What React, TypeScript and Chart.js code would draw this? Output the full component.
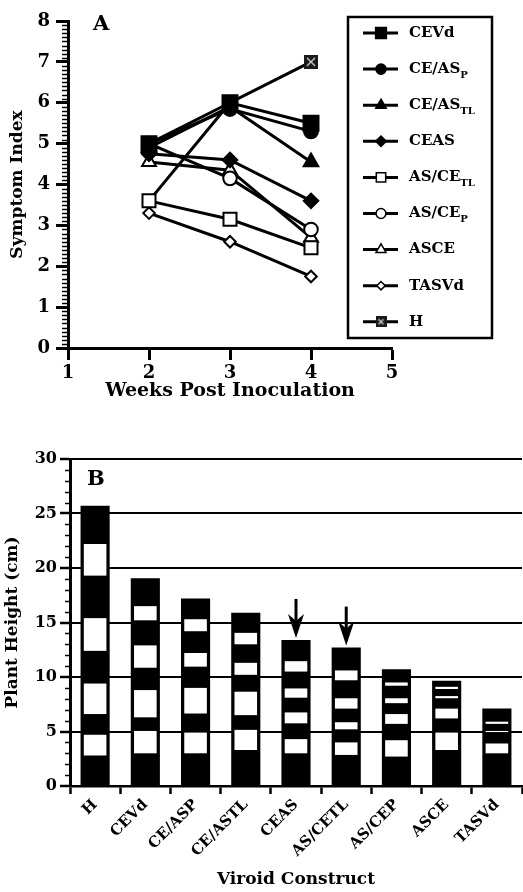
import React, { useEffect, useRef } from 'react';
import { Chart, registerables } from 'chart.js';
import { drawPoint } from 'chart.js/helpers';

Chart.register(...registerables);

const FONT = "'DejaVu Serif', serif";

// ---------- Panel A data ----------
const weeks = [2, 3, 4];
const seriesNames = ['CEVd', 'CE/AS', 'CE/AS', 'CEAS', 'AS/CE', 'AS/CE', 'ASCE', 'TASVd', 'H'];
const seriesSubs = ['', 'P', 'TL', '', 'TL', 'P', '', '', ''];
const cevd = [5.0, 6.0, 5.5];
const ceAsP = [5.0, 5.85, 5.3];
const ceAsTL = [4.9, 5.9, 4.55];
const ceas = [4.75, 4.6, 3.6];
const asCeTL = [3.6, 3.15, 2.45];
const asCeP = [5.0, 4.15, 2.9];
const asce = [4.55, 4.35, 2.7];
const tasvd = [3.3, 2.6, 1.75];
const hSeries = [3.6, 6.0, 7.0];
const seriesValues = [cevd, ceAsP, ceAsTL, ceas, asCeTL, asCeP, asce, tasvd, hSeries];

// ---------- Panel B data ----------
const constructs = ['H', 'CEVd', 'CE/ASP', 'CE/ASTL', 'CEAS', 'AS/CETL', 'AS/CEP', 'ASCE', 'TASVd'];
const plantHeight = [25.7, 19.05, 17.2, 15.9, 13.4, 12.7, 10.7, 9.65, 7.1];
const band1 = [[2.8, 4.7], [3.0, 5.05], [3.0, 4.9], [3.3, 5.15], [3.0, 4.3], [2.85, 4.0], [2.7, 4.2], [3.3, 4.9], [3.0, 3.9]];
const band2 = [[6.6, 9.4], [6.3, 8.8], [6.65, 9.0], [6.5, 8.65], [5.75, 6.75], [5.2, 5.85], [5.7, 6.6], [6.2, 7.1], [4.95, 5.05]];
const band3 = [[12.4, 15.4], [10.85, 12.9], [10.95, 12.2], [10.2, 11.3], [8.1, 8.95], [7.1, 8.05], [7.6, 8.05], [8.05, 8.25], [5.7, 5.9]];
const band4 = [[19.3, 22.2], [15.2, 16.5], [14.2, 15.3], [13.0, 14.05], [10.5, 11.45], [9.7, 10.6], [9.2, 9.5], [8.9, 9.1], null];
const arrowed = ['CEAS', 'AS/CETL'];

function makeHMarker(size: number) {
  const c = document.createElement('canvas');
  c.width = size;
  c.height = size;
  const g = c.getContext('2d')!;
  g.fillStyle = '#1a1a1a';
  g.fillRect(0, 0, size, size);
  g.strokeStyle = '#cfcfcf';
  g.lineWidth = 1.3;
  g.beginPath();
  g.moveTo(3, 3);
  g.lineTo(size - 3, size - 3);
  g.moveTo(size - 3, 3);
  g.lineTo(3, size - 3);
  g.stroke();
  return c;
}

const minorTicks = {
  id: 'minorTicks',
  afterDraw(chart: any, _args: any, opts: any) {
    const s = chart.scales.y;
    const ctx = chart.ctx;
    ctx.save();
    ctx.strokeStyle = '#000';
    ctx.lineWidth = opts.width;
    const n = Math.round((s.max - s.min) / opts.step);
    for (let i = 0; i <= n; i++) {
      const v = s.min + i * opts.step;
      if (Math.abs(v / opts.major - Math.round(v / opts.major)) < 1e-6) continue;
      const y = Math.round(s.getPixelForValue(v)) + 0.5;
      ctx.beginPath();
      ctx.moveTo(chart.chartArea.left - opts.len, y);
      ctx.lineTo(chart.chartArea.left, y);
      ctx.stroke();
    }
    ctx.restore();
  },
};

const panelLabel = {
  id: 'panelLabel',
  afterDraw(chart: any, _args: any, opts: any) {
    const ctx = chart.ctx;
    ctx.save();
    ctx.fillStyle = '#000';
    ctx.font = `bold 21px ${FONT}`;
    ctx.textBaseline = 'alphabetic';
    ctx.textAlign = 'left';
    ctx.fillText(opts.text, chart.chartArea.left + opts.dx, chart.chartArea.top + opts.dy);
    ctx.restore();
  },
};

const boxLegend = {
  id: 'boxLegend',
  afterDraw(chart: any) {
    const ctx = chart.ctx;
    const bx = chart.chartArea.right - 44;
    const by = 17;
    const bw = 144;
    const bh = 321;
    ctx.save();
    ctx.fillStyle = '#fff';
    ctx.fillRect(bx, by, bw, bh);
    ctx.strokeStyle = '#000';
    ctx.lineWidth = 2.5;
    ctx.strokeRect(bx, by, bw, bh);
    chart.data.datasets.forEach((ds: any, i: number) => {
      const y = by + 16 + i * 36.1;
      ctx.strokeStyle = '#000';
      ctx.lineWidth = 3;
      ctx.beginPath();
      ctx.moveTo(bx + 15, y);
      ctx.lineTo(bx + 50, y);
      ctx.stroke();
      ctx.fillStyle = ds.pointBackgroundColor;
      ctx.strokeStyle = '#000';
      ctx.lineWidth = 1.5;
      const style = ds.legendStyle || ds.pointStyle;
      drawPoint(ctx, { pointStyle: style, radius: ds.pointRadius * 0.72, borderWidth: 1.5, rotation: 0 } as any, bx + 33, y);
      ctx.fillStyle = '#000';
      ctx.font = `bold 15px ${FONT}`;
      ctx.textBaseline = 'middle';
      ctx.textAlign = 'left';
      ctx.fillText(seriesNames[i], bx + 61, y);
      if (seriesSubs[i]) {
        const w = ctx.measureText(seriesNames[i]).width;
        ctx.font = `bold 10px ${FONT}`;
        ctx.fillText(seriesSubs[i], bx + 61 + w, y + 6);
      }
    });
    ctx.restore();
  },
};

const arrowPlugin = {
  id: 'arrows',
  afterDatasetsDraw(chart: any) {
    const ctx = chart.ctx;
    const meta = chart.getDatasetMeta(0);
    ctx.save();
    ctx.fillStyle = '#000';
    ctx.strokeStyle = '#000';
    arrowed.forEach((name) => {
      const idx = chart.data.labels.indexOf(name);
      const el = meta.data[idx];
      if (!el) return;
      const x = el.x;
      const tip = el.y - 2;
      ctx.lineWidth = 3;
      ctx.beginPath();
      ctx.moveTo(x, tip - 39);
      ctx.lineTo(x, tip - 12);
      ctx.stroke();
      ctx.beginPath();
      ctx.moveTo(x, tip);
      ctx.lineTo(x - 8, tip - 24);
      ctx.lineTo(x, tip - 17);
      ctx.lineTo(x + 8, tip - 24);
      ctx.closePath();
      ctx.fill();
    });
    ctx.restore();
  },
};

export default function App() {
  const refA = useRef<HTMLCanvasElement>(null);
  const refB = useRef<HTMLCanvasElement>(null);

  useEffect(() => {
    const hImg = makeHMarker(14);
    const hLeg = makeHMarker(11);
    const styles: any[] = [
      { s: 'rect', r: 10.6, fill: '#000' },
      { s: 'circle', r: 7, fill: '#000' },
      { s: 'triangle', r: 8.4, fill: '#000' },
      { s: 'rectRot', r: 7.3, fill: '#000' },
      { s: 'rect', r: 9.2, fill: '#fff' },
      { s: 'circle', r: 6.8, fill: '#fff' },
      { s: 'triangle', r: 8, fill: '#fff' },
      { s: 'rectRot', r: 5.8, fill: '#fff' },
      { s: hImg, r: 7, fill: '#000', leg: hLeg },
    ];
    const tickFontA = { family: FONT, size: 18, weight: 'bold' as const };
    const chartA = new Chart(refA.current!, {
      type: 'line',
      data: {
        datasets: seriesValues.map((vals, i) => ({
          label: seriesNames[i] + seriesSubs[i],
          data: weeks.map((w, j) => ({ x: w, y: vals[j] })),
          borderColor: '#000',
          borderWidth: 3,
          pointStyle: styles[i].s,
          legendStyle: styles[i].leg,
          pointRadius: styles[i].r,
          pointBackgroundColor: styles[i].fill,
          pointBorderColor: '#000',
          pointBorderWidth: 2,
          tension: 0,
        })) as any,
      },
      options: {
        animation: false,
        responsive: false,
        maintainAspectRatio: false,
        layout: { padding: { left: 5, right: 131, top: 21, bottom: 0 } },
        plugins: {
          legend: { display: false },
          tooltip: { enabled: false },
          minorTicks: { step: 0.1, major: 1, len: 6, width: 1.5 },
          panelLabel: { text: 'A', dx: 25, dy: 9 },
        } as any,
        scales: {
          x: {
            type: 'linear',
            min: 1,
            max: 5,
            afterFit: (s: any) => { s.height = 410 - 348; },
            ticks: { stepSize: 1, color: '#000', font: tickFontA, padding: 3 },
            grid: { drawOnChartArea: false, tickLength: 12, tickWidth: 3, tickColor: '#000' },
            border: { color: '#000', width: 3 },
            title: { display: true, text: 'Weeks Post Inoculation', color: '#000', font: { family: FONT, size: 19, weight: 'bold' }, padding: { top: 0, bottom: 8 } },
          },
          y: {
            min: 0,
            max: 8,
            afterFit: (s: any) => { s.width = 63; },
            ticks: { stepSize: 1, color: '#000', font: tickFontA, padding: 6 },
            grid: { drawOnChartArea: false, tickLength: 12, tickWidth: 3, tickColor: '#000' },
            border: { color: '#000', width: 3 },
            title: { display: true, text: 'Symptom Index', color: '#000', font: { family: FONT, size: 17, weight: 'bold' }, padding: 2 },
          },
        },
      },
      plugins: [minorTicks, boxLegend, panelLabel],
    });

    const barBase = { grouped: false, categoryPercentage: 1, borderWidth: 0 };
    const stripe = (data: any[], i: number) => ({
      ...barBase,
      label: 'stripe' + i,
      data,
      backgroundColor: '#fff',
      barPercentage: 0.45,
      order: 1,
    });
    const chartB = new Chart(refB.current!, {
      type: 'bar',
      data: {
        labels: constructs,
        datasets: [
          { ...barBase, label: 'Plant Height', data: plantHeight, backgroundColor: '#000', barPercentage: 0.58, order: 2 },
          stripe(band1, 1),
          stripe(band2, 2),
          stripe(band3, 3),
          stripe(band4, 4),
        ] as any,
      },
      options: {
        animation: false,
        responsive: false,
        maintainAspectRatio: false,
        layout: { padding: { left: 0, right: 1, top: 49, bottom: 0 } },
        plugins: {
          legend: { display: false },
          tooltip: { enabled: false },
          minorTicks: { step: 1, major: 5, len: 5, width: 1.5 },
          panelLabel: { text: 'B', dx: 17, dy: 26 },
        } as any,
        scales: {
          x: {
            afterFit: (s: any) => { s.height = 106; },
            ticks: { color: '#000', font: { family: FONT, size: 15, weight: 'bold' }, minRotation: 45, maxRotation: 45, padding: 2 },
            grid: { offset: true, drawOnChartArea: false, tickLength: 8, tickWidth: 2.5, tickColor: '#000' },
            border: { color: '#000', width: 2.5 },
            title: { display: true, text: 'Viroid Construct', color: '#000', font: { family: FONT, size: 17, weight: 'bold' }, padding: { top: 0, bottom: 2 } },
          },
          y: {
            min: 0,
            max: 30,
            afterFit: (s: any) => { s.width = 70; },
            ticks: { stepSize: 5, color: '#000', font: { family: FONT, size: 16, weight: 'bold' }, padding: 3 },
            grid: { color: '#000', lineWidth: 2, tickLength: 10, tickWidth: 2.5, tickColor: '#000' },
            border: { color: '#000', width: 3 },
            title: { display: true, text: 'Plant Height (cm)', color: '#000', font: { family: FONT, size: 17, weight: 'bold' }, padding: 2 },
          },
        },
      },
      plugins: [minorTicks, arrowPlugin, panelLabel],
    });

    return () => {
      chartA.destroy();
      chartB.destroy();
    };
  }, []);

  return (
    <div style={{ position: 'absolute', left: 0, top: 0, width: 523, height: 892, background: '#fff' }}>
      <canvas ref={refA} width={523} height={410} style={{ position: 'absolute', left: 0, top: 0, width: 523, height: 410 }} />
      <canvas ref={refB} width={523} height={482} style={{ position: 'absolute', left: 0, top: 410, width: 523, height: 482 }} />
    </div>
  );
}
